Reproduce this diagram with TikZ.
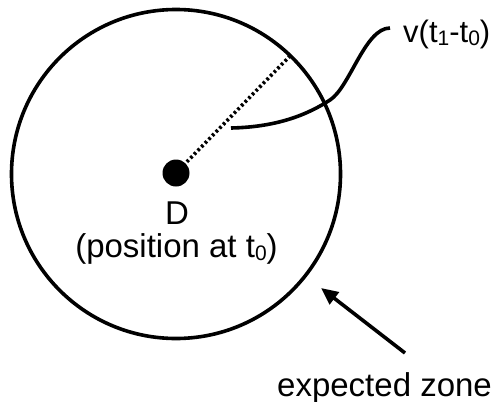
\documentclass[tikz,border=0pt]{standalone}
\usepackage{fontspec}
\setmainfont{Liberation Sans}
\usetikzlibrary{arrows.meta}
\newcommand{\mysub}[1]{\raisebox{-3pt}{\fontsize{21}{21}\selectfont #1}}
\begin{document}
\begin{tikzpicture}[x=1pt,y=-1pt,
  lbl/.style={inner sep=0pt,font=\fontsize{33}{39}\selectfont},
  thickline/.style={line width=3.6pt},
  zonestyle/.style={circle,draw,line width=3.6pt,minimum size=329pt,inner sep=0pt,outer sep=0pt},
  dotstyle/.style={circle,fill,minimum size=27pt,inner sep=0pt,outer sep=0pt},
  dottedray/.style={line width=3.6pt,dash pattern=on 2.6pt off 2.6pt}]
\useasboundingbox (0,0) rectangle (496,402);
\node[zonestyle] (zone) at (176,174) {};
\node[dotstyle] (dot) at (176,173) {};
\draw[dottedray] (dot.center) -- (zone.46.5);
\node[lbl,anchor=base] (dlab) at (177,224) {D};
\node[lbl,anchor=base] (poslab) at (176.5,257) {(position at t\mysub{0})};
\node[lbl,anchor=base west,font=\fontsize{31}{37}\selectfont] (vlab) at (403,42) {v(t\mysub{1}-t\mysub{0})};
\coordinate (cstart) at (231,128);
\coordinate (cend) at (390,28);
\draw[thickline] (cstart) .. controls (280,127) and (310,113) .. (330,100)
  .. controls (350,87) and (365,28) .. (cend);
\node[lbl,anchor=base west] (zlab) at (277,396) {expected zone};
\coordinate (astart) at (405,353);
\coordinate (atip) at (321,288);
\draw[thickline,-{Triangle[length=17pt,width=15pt]}] (astart) -- (atip);
\end{tikzpicture}
\end{document}
